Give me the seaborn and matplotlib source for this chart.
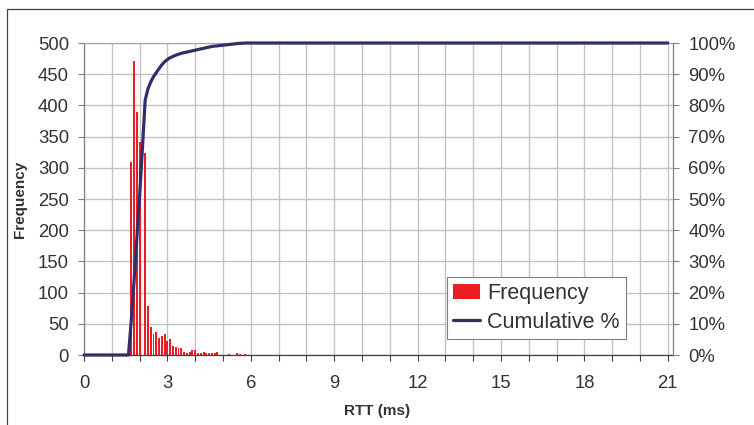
import numpy as np
import pandas as pd
import seaborn as sns
import matplotlib
matplotlib.use("Agg")
import matplotlib.pyplot as plt
from matplotlib.patches import Rectangle
from matplotlib.lines import Line2D
from matplotlib.ticker import MultipleLocator, PercentFormatter

# ---------------- data ----------------
# histogram categories: RTT bins of 0.1 ms, labelled 0.0 ... 21.0 ms
rtt_bins_ms = [round(i * 0.1, 1) for i in range(211)]
first_nonzero_bin_ms = 1.7
# frequencies of consecutive bins 1.7, 1.8, ..., 5.8 ms (all other bins are 0)
frequency_values = [309, 471, 390, 341, 0, 323, 78, 45, 34, 37,
                    27, 30, 34, 22, 26, 14, 13, 11, 11, 5,
                    3, 5, 8, 8, 3, 3, 5, 3, 3, 3,
                    3, 5, 0, 0, 0, 2, 0, 0, 3, 2,
                    0, 2]
# cumulative %, for bins 1.6, 1.7, ..., 5.8 ms
# (0 % before 1.6 ms, 100 % after 5.8 ms)
cumulative_start_ms = 1.6
cumulative_values = [0, 11, 23.5, 37, 51, 66, 81.7, 85.3, 87.5, 89.2,
                     90.5, 91.8, 93.0, 94.0, 94.7, 95.3, 95.7, 96.1, 96.4, 96.7,
                     96.9, 97.1, 97.3, 97.5, 97.7, 97.9, 98.1, 98.3, 98.5, 98.7,
                     98.9, 99.0, 99.1, 99.2, 99.3, 99.4, 99.5, 99.6, 99.7, 99.8,
                     99.9, 99.9, 100]
x_tick_labels = [0, 3, 6, 9, 12, 15, 18, 21]
left_ticks = list(range(0, 501, 50))
right_ticks = list(range(0, 101, 10))

freq = np.zeros(len(rtt_bins_ms))
start = rtt_bins_ms.index(first_nonzero_bin_ms)
freq[start:start + len(frequency_values)] = frequency_values
cum = np.zeros(len(rtt_bins_ms))
cstart = rtt_bins_ms.index(cumulative_start_ms)
cum[cstart:cstart + len(cumulative_values)] = cumulative_values
cum[cstart + len(cumulative_values):] = 100
df = pd.DataFrame({"rtt": rtt_bins_ms, "freq": freq, "cum": cum})

# ---------------- style ----------------
sns.set_style("white")
plt.rcParams["font.family"] = ["Liberation Sans", "DejaVu Sans"]

RED = "#ec1c24"
NAVY = "#2e3068"
GRID = "#c9c1c1"
TXT = "#333333"

W, H = 754, 425
fig = plt.figure(figsize=(W / 100, H / 100), dpi=100)
ax = fig.add_axes([84 / W, 70 / H, 588.7 / W, 312 / H])

sns.barplot(data=df, x="rtt", y="freq", native_scale=True, width=0.7,
            color=RED, saturation=1, errorbar=None, linewidth=0, ax=ax, zorder=2)

ax.set_xlim(0, 588.7 / 27.8)
ax.set_ylim(0, 500)
ax.set_xticks(x_tick_labels)
ax.set_xticklabels([str(v) for v in x_tick_labels])
ax.xaxis.set_minor_locator(MultipleLocator(1))
ax.set_yticks(left_ticks)
ax.set_axisbelow(True)
ax.grid(which="both", axis="x", color=GRID, lw=1.0)
ax.grid(which="major", axis="y", color=GRID, lw=1.0)
ax.set_xlabel("")
ax.set_ylabel("")

ax.tick_params(axis="y", which="major", direction="out", length=4.3, width=0.8,
               color="#808080", pad=6.5, labelsize=13.3, labelcolor=TXT, left=True)
ax.tick_params(axis="x", which="both", direction="out", length=4.3, width=0.8,
               color="#404040", pad=10, labelsize=13.3, labelcolor=TXT, bottom=True)

ax.spines["left"].set_color("#808080")
ax.spines["bottom"].set_color("#404040")
ax.spines["top"].set_color("#b0a6a6")
ax.spines["right"].set_visible(False)
for s in ax.spines.values():
    s.set_linewidth(0.9)

ax2 = ax.twinx()
sns.lineplot(data=df, x="rtt", y="cum", color=NAVY, lw=2.3, ax=ax2, clip_on=False)
ax2.set_ylim(0, 100)
ax2.set_yticks(right_ticks)
ax2.yaxis.set_major_formatter(PercentFormatter(decimals=0))
ax2.set_xlabel("")
ax2.set_ylabel("")
ax2.tick_params(axis="y", direction="out", length=4.3, width=0.8, color="#808080",
                pad=6.9, labelsize=13.3, labelcolor=TXT, right=True)
for k in ["left", "top", "bottom"]:
    ax2.spines[k].set_visible(False)
ax2.spines["right"].set_color("#808080")
ax2.spines["right"].set_linewidth(0.9)

# axis titles
fig.text(20 / W, 1 - 199 / H, "Frequency", rotation=90, ha="center", va="center",
         fontsize=11, fontweight="bold", color=TXT)
fig.text(377 / W, 1 - 411 / H, "RTT (ms)", ha="center", va="center",
         fontsize=11, fontweight="bold", color=TXT)

# legend
handles = [Rectangle((0, 0), 1, 1, facecolor=RED, edgecolor="none"),
           Line2D([0], [0], color=NAVY, lw=2.3)]
leg = fig.legend(handles, ["Frequency", "Cumulative %"], loc="upper left",
                 bbox_to_anchor=(447 / W, 1 - 277 / H), frameon=True, fancybox=False,
                 edgecolor="#808080", framealpha=1, fontsize=15.5, handlelength=1.25,
                 handleheight=0.7, handletextpad=0.33, borderpad=0.3,
                 labelspacing=0.34, borderaxespad=0)
leg.get_frame().set_linewidth(0.8)
for t in leg.get_texts():
    t.set_color(TXT)

# outer chart border (extends past right and bottom edges)
fig.add_artist(Rectangle((7 / W, -0.1), 1.2, (H - 9) / H + 0.1,
                         transform=fig.transFigure, fill=False,
                         edgecolor="#404040", lw=0.9))

fig.savefig("out.png", dpi=100)
